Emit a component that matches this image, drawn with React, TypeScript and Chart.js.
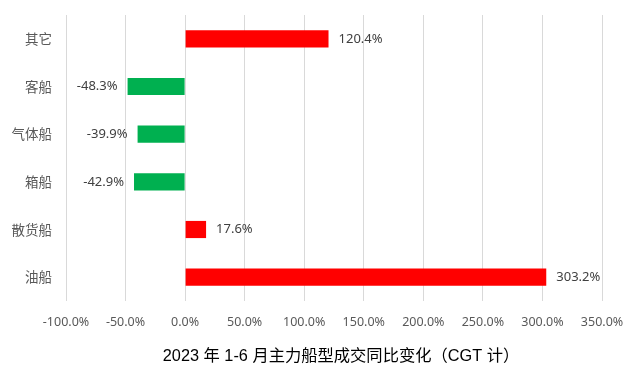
import React, { useEffect, useRef } from "react";
import { Chart, registerables } from "chart.js";

Chart.register(...registerables);

const categories = ["其它", "客船", "气体船", "箱船", "散货船", "油船"];
const values = [120.4, -48.3, -39.9, -42.9, 17.6, 303.2];
const titleText = "2023 年 1-6 月主力船型成交同比变化（CGT 计）";

const POS = "#FF0000";
const NEG = "#00B050";

const labelPlugin = {
  id: "barLabels",
  afterDatasetsDraw(chart: any) {
    const ctx = chart.ctx;
    const meta = chart.getDatasetMeta(0);
    ctx.save();
    ctx.font = '13px "Noto Sans", "Liberation Sans", sans-serif';
    ctx.fillStyle = "#404040";
    ctx.textBaseline = "middle";
    meta.data.forEach((bar: any, i: number) => {
      const v = values[i];
      const txt = v.toFixed(1) + "%";
      if (v >= 0) {
        ctx.textAlign = "left";
        ctx.fillText(txt, bar.x + 10, bar.y);
      } else {
        ctx.textAlign = "right";
        ctx.fillText(txt, bar.x - 10, bar.y);
      }
    });
    ctx.restore();
  },
};

const titlePlugin = {
  id: "bottomTitle",
  afterDraw(chart: any) {
    const ctx = chart.ctx;
    ctx.save();
    ctx.font = '16.3px "Liberation Sans", "Noto Sans CJK SC", sans-serif';
    ctx.fillStyle = "#000000";
    ctx.textAlign = "center";
    ctx.textBaseline = "middle";
    ctx.fillText(titleText, 341, 357);
    ctx.restore();
  },
};

export default function App() {
  const ref = useRef<HTMLCanvasElement>(null);
  useEffect(() => {
    const chart = new Chart(ref.current!, {
      type: "bar",
      data: {
        labels: categories,
        datasets: [
          {
            data: values,
            backgroundColor: values.map((v) => (v >= 0 ? POS : NEG)),
            categoryPercentage: 1,
            barPercentage: 0.36,
          },
        ],
      },
      options: {
        indexAxis: "y",
        animation: false,
        responsive: false,
        maintainAspectRatio: false,
        layout: { padding: { top: 15, right: 27, bottom: 0, left: 0 } },
        plugins: {
          legend: { display: false },
          tooltip: { enabled: false },
          title: { display: false },
        },
        scales: {
          x: {
            min: -100,
            max: 350,
            grid: { color: "#D9D9D9", drawTicks: false },
            border: { display: false },
            ticks: {
              stepSize: 50,
              color: "#595959",
              padding: 14,
              maxRotation: 0,
              font: { size: 12.5, family: '"Noto Sans", "Liberation Sans", sans-serif' },
              callback: (v: any) => Number(v).toFixed(1) + "%",
            },
            afterFit: (scale: any) => {
              scale.height = 67;
              scale.paddingLeft = 0;
              scale.paddingRight = 0;
            },
          },
          y: {
            grid: { display: false, drawTicks: false },
            border: { display: false },
            ticks: {
              color: "#595959",
              padding: 14,
              font: { size: 13.5, family: '"Noto Sans CJK SC", sans-serif' },
            },
            afterFit: (scale: any) => {
              scale.width = 66;
              scale.paddingTop = 0;
              scale.paddingBottom = 0;
            },
          },
        },
      },
      plugins: [labelPlugin, titlePlugin],
    });
    return () => chart.destroy();
  }, []);
  return (
    <div style={{ position: "fixed", left: 0, top: 0, width: 629, height: 368, background: "#fff" }}>
      <canvas ref={ref} width={629} height={368} style={{ width: 629, height: 368 }} />
    </div>
  );
}
